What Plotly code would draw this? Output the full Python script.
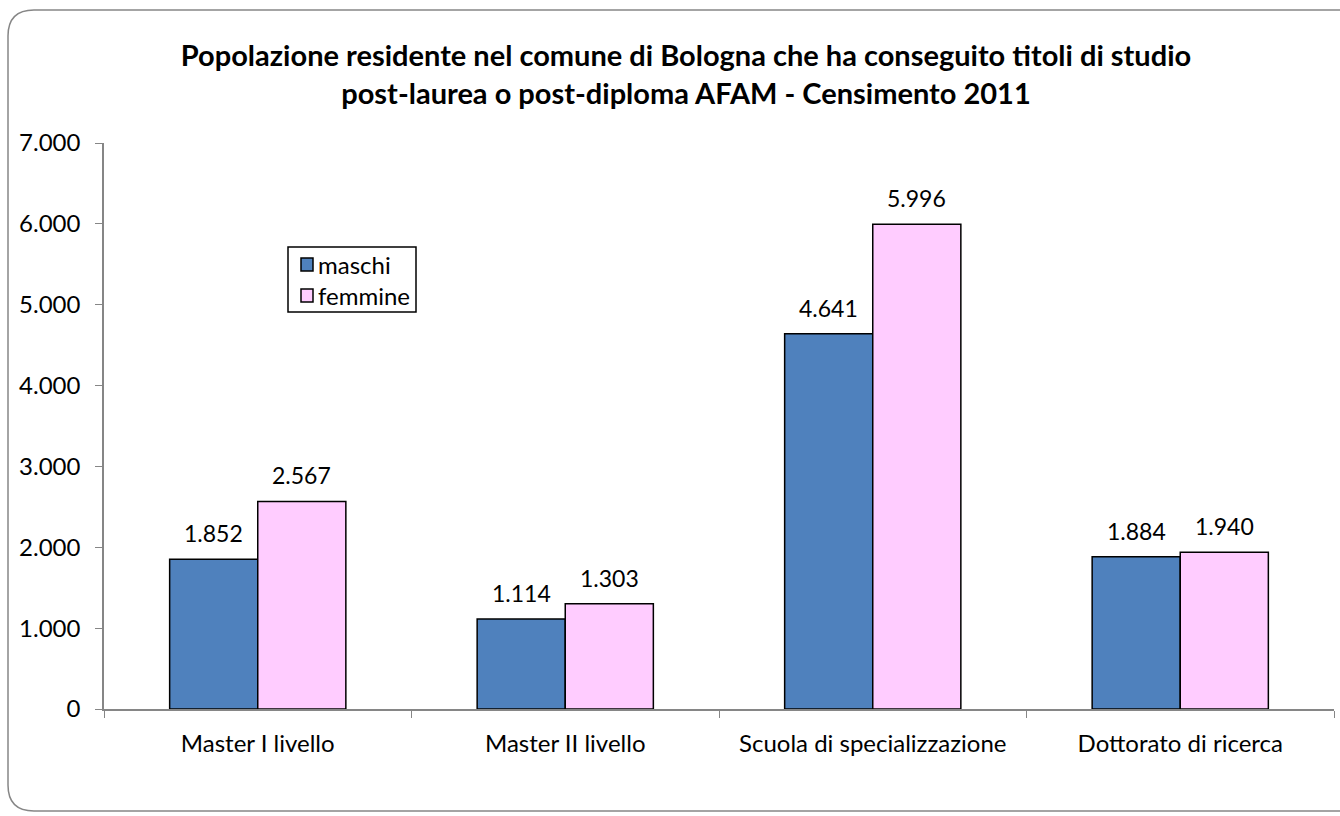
import plotly.graph_objs as go

categorie = ["Master I livello", "Master II livello", "Scuola di specializzazione", "Dottorato di ricerca"]
maschi = [1852, 1114, 4641, 1884]
femmine = [2567, 1303, 5996, 1940]
tick_vals = [0, 1000, 2000, 3000, 4000, 5000, 6000, 7000]

serie = [("maschi", maschi, "#4F81BD"), ("femmine", femmine, "#FFCCFF")]

W, H = 1340, 816
# area del grafico in pixel
L, R, T, B = 104, 1334, 143, 709
FONT = "Lato, 'Open Sans', sans-serif"


def px(x):
    return (x - L) / (R - L)


def py(y):
    return (B - y) / (B - T)


fig = go.Figure()
for nome, valori, colore in serie:
    fig.add_trace(go.Bar(
        x=categorie, y=valori, name=nome,
        marker=dict(color=colore, line=dict(color="black", width=1.5)),
        showlegend=False,
    ))

# etichette dei valori sopra le barre
for i, (nome, valori, colore) in enumerate(serie):
    for cat, v in zip(categorie, valori):
        fig.add_annotation(
            x=cat, y=v, text=f"{v:,}".replace(",", "."), showarrow=False,
            xshift=-44 if i == 0 else 44, yshift=10, yanchor="bottom",
            font=dict(size=23),
        )

# cornice arrotondata
r = 26
x0, x1, y0, y1 = 8, 1364, 10, 811
path = (
    f"M {px(x0 + r)} {py(y0)} L {px(x1 - r)} {py(y0)} Q {px(x1)} {py(y0)} {px(x1)} {py(y0 + r)} "
    f"L {px(x1)} {py(y1 - r)} Q {px(x1)} {py(y1)} {px(x1 - r)} {py(y1)} "
    f"L {px(x0 + r)} {py(y1)} Q {px(x0)} {py(y1)} {px(x0)} {py(y1 - r)} "
    f"L {px(x0)} {py(y0 + r)} Q {px(x0)} {py(y0)} {px(x0 + r)} {py(y0)} Z"
)
fig.add_shape(type="path", path=path, xref="paper", yref="paper",
              line=dict(color="#868686", width=1.5), layer="below")

# legenda
fig.add_shape(type="rect", xref="paper", yref="paper",
              x0=px(288), x1=px(416), y0=py(247), y1=py(312),
              line=dict(color="black", width=1.5), fillcolor="white")
for k, (nome, valori, colore) in enumerate(serie):
    yc = 264.5 + 31 * k
    fig.add_shape(type="rect", xref="paper", yref="paper",
                  x0=px(301), x1=px(313), y0=py(yc - 6.5), y1=py(yc + 6.5),
                  line=dict(color="black", width=1.5), fillcolor=colore)
    fig.add_annotation(x=px(316), y=py(yc), xref="paper", yref="paper",
                       text=nome, showarrow=False, xanchor="left", yanchor="middle",
                       font=dict(size=24))

fig.update_layout(
    width=W, height=H,
    margin=dict(l=L, r=W - R, t=T, b=H - B),
    paper_bgcolor="white", plot_bgcolor="white",
    separators=",.",
    font=dict(family=FONT, size=24, color="black"),
    title=dict(
        text="<b>Popolazione residente nel comune di Bologna che ha conseguito titoli di studio<br>"
             "post-laurea o post-diploma AFAM - Censimento 2011</b>",
        xref="paper", x=px(686), xanchor="center",
        y=1 - 66 / H, yanchor="middle",
        font=dict(size=29),
    ),
    bargap=0.427, bargroupgap=0,
    showlegend=False,
    xaxis=dict(
        showline=True, linecolor="#868686", linewidth=1.5,
        ticks="outside", tickson="boundaries", ticklen=7, tickcolor="#868686",
        tickfont=dict(size=24), ticklabelstandoff=12,
    ),
    yaxis=dict(
        range=[0, 7000], tickvals=tick_vals, tickformat=",d",
        showline=True, linecolor="#868686", linewidth=1.5,
        ticks="outside", ticklen=7, tickcolor="#868686",
        showgrid=False, zeroline=False, tickfont=dict(size=24),
        ticklabelstandoff=10,
    ),
)

fig.write_html("out.html", config={"displayModeBar": False},
               post_script="document.body.style.margin='0';")
